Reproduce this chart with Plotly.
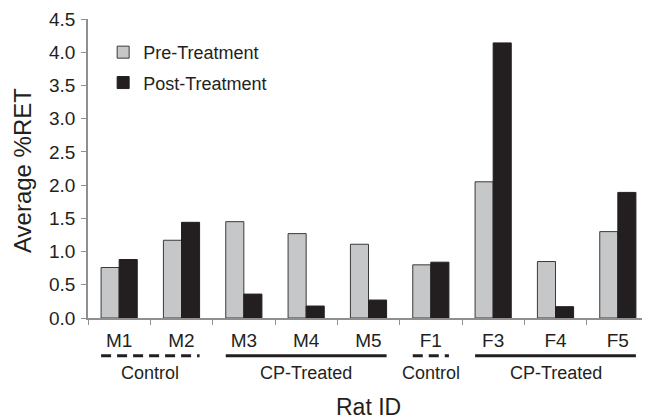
import plotly.graph_objects as go

rat_ids = ["M1", "M2", "M3", "M4", "M5", "F1", "F3", "F4", "F5"]
pre_treatment = [0.76, 1.17, 1.45, 1.27, 1.11, 0.80, 2.05, 0.85, 1.30]
post_treatment = [0.88, 1.44, 0.36, 0.18, 0.27, 0.84, 4.14, 0.17, 1.89]
y_ticks = [0.0, 0.5, 1.0, 1.5, 2.0, 2.5, 3.0, 3.5, 4.0, 4.5]
groups = [
    ("Control", "M1", "M2", "dash"),
    ("CP-Treated", "M3", "M5", "solid"),
    ("Control", "F1", "F1", "dash"),
    ("CP-Treated", "F3", "F5", "solid"),
]

FONT = "Liberation Sans, Arial, Helvetica, sans-serif"
AXIS_GREY = "#8f8f8f"
INK = "#231f20"

fig = go.Figure()
fig.add_trace(go.Bar(
    name="Pre-Treatment", x=rat_ids, y=pre_treatment,
    marker=dict(color="#c6c7c9", line=dict(color="#3a3a3a", width=1)),
    legendgroup="a",
))
fig.add_trace(go.Bar(
    name="Post-Treatment", x=rat_ids, y=post_treatment,
    marker=dict(color=INK, line=dict(color=INK, width=1)),
    legendgroup="b",
))

half = 0.29
for label, a, b, style in groups:
    i0 = rat_ids.index(a) - half
    i1 = rat_ids.index(b) + half
    fig.add_shape(type="line", xref="x", yref="paper", x0=i0, x1=i1,
                  y0=-0.126, y1=-0.126,
                  line=dict(color=INK, width=3,
                            dash="solid" if style == "solid" else "10px,6px"))
    fig.add_annotation(xref="x", yref="paper", x=(i0 + i1) / 2, y=-0.184,
                       text=label, showarrow=False, yanchor="middle",
                       font=dict(size=18, color=INK, family=FONT))

fig.add_annotation(xref="paper", yref="paper", x=0.5, y=-0.298,
                   text="Rat ID", showarrow=False, yanchor="middle",
                   font=dict(size=23, color=INK, family=FONT))
fig.add_annotation(xref="paper", yref="paper", x=-0.1176, y=0.4916,
                   text="Average %RET", showarrow=False, textangle=-90,
                   xanchor="center", yanchor="middle",
                   font=dict(size=24, color=INK, family=FONT))

fig.update_layout(
    width=642, height=411,
    margin=dict(l=80, r=1, t=11, b=101),
    paper_bgcolor="white", plot_bgcolor="white",
    font=dict(family=FONT, color=INK),
    barmode="group", bargap=0.42, bargroupgap=0,
    showlegend=True,
    legend=dict(x=0.027, y=0.95, xanchor="left", yanchor="top",
                font=dict(size=18, color=INK, family=FONT),
                bgcolor="rgba(0,0,0,0)", tracegroupgap=4,
                traceorder="grouped"),
    xaxis=dict(type="category", showline=True, linecolor=AXIS_GREY, linewidth=1.5,
               ticks="outside", tickson="boundaries", ticklen=5, tickcolor=AXIS_GREY,
               ticklabelstandoff=4,
               tickfont=dict(size=19, color=INK), showgrid=False,
               range=[-0.5, 8.5]),
    yaxis=dict(range=[0, 4.5], tickvals=y_ticks,
               ticktext=[f"{v:.1f}" for v in y_ticks],
               showline=True, linecolor=AXIS_GREY, linewidth=1.5,
               ticks="outside", ticklen=5, tickcolor=AXIS_GREY,
               ticklabelstandoff=2,
               tickfont=dict(size=19, color=INK), showgrid=False,
               zeroline=False),
)

fig.write_html("out.html")
